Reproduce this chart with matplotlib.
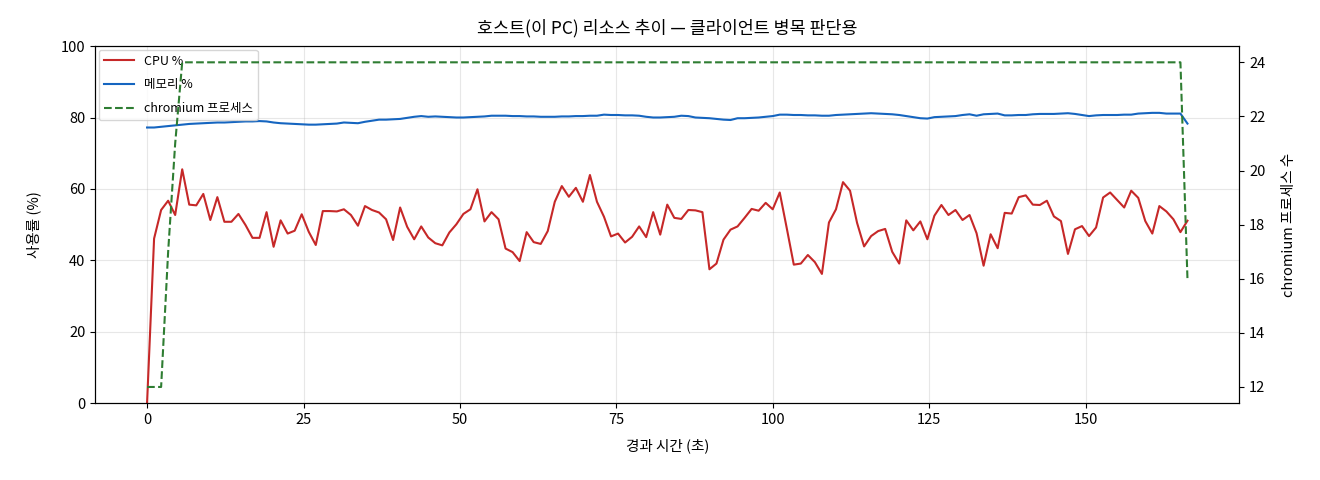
import numpy as np
import matplotlib
matplotlib.use("Agg")
import matplotlib.pyplot as plt

plt.rcParams['font.family'] = ['Noto Sans CJK KR', 'DejaVu Sans']

# sampling interval (seconds)
step = 1.1233
cpu = [
    0, 46.1, 54.1, 56.7, 52.7, 65.5, 55.6, 55.4, 58.6, 51.3,
    57.7, 50.8, 50.8, 53.0, 49.9, 46.3, 46.3, 53.5, 43.8, 51.2,
    47.5, 48.3, 52.9, 48.0, 44.3, 53.8, 53.8, 53.7, 54.3, 52.7,
    49.7, 55.2, 54.1, 53.4, 51.5, 45.7, 54.8, 49.4, 45.9, 49.5,
    46.4, 44.8, 44.2, 47.8, 50.1, 53.0, 54.3, 59.9, 50.9, 53.5,
    51.5, 43.3, 42.3, 39.8, 47.9, 45.1, 44.6, 48.2, 56.4, 60.8,
    57.8, 60.3, 56.4, 63.9, 56.4, 52.2, 46.7, 47.5, 45.0, 46.6,
    49.5, 46.5, 53.5, 47.2, 55.6, 51.9, 51.6, 54.1, 54.0, 53.5,
    37.5, 39.1, 45.8, 48.6, 49.5, 51.9, 54.4, 53.9, 56.1, 54.3,
    59.0, 49.0, 38.8, 39.1, 41.5, 39.5, 36.2, 50.6, 54.3, 61.9,
    59.5, 50.5, 43.9, 46.8, 48.2, 48.8, 42.4, 39.1, 51.2, 48.4,
    50.9, 45.9, 52.5, 55.5, 52.7, 54.1, 51.3, 52.7, 47.6, 38.5,
    47.3, 43.4, 53.3, 53.1, 57.7, 58.2, 55.6, 55.5, 56.7, 52.3,
    51.0, 41.8, 48.7, 49.6, 46.8, 49.2, 57.6, 59.0, 56.9, 54.8,
    59.5, 57.5, 51.0, 47.5, 55.2, 53.7, 51.5, 47.9, 51.1,
]
mem = [
    77.2, 77.2, 77.4, 77.6, 77.8, 78.0, 78.2, 78.3, 78.4, 78.5,
    78.6, 78.6, 78.7, 78.8, 78.9, 78.9, 79.0, 78.9, 78.6, 78.4,
    78.3, 78.2, 78.1, 78.0, 78.0, 78.1, 78.2, 78.3, 78.6, 78.5,
    78.4, 78.8, 79.1, 79.4, 79.4, 79.5, 79.6, 79.9, 80.2, 80.4,
    80.2, 80.3, 80.2, 80.1, 80.0, 80.0, 80.1, 80.2, 80.3, 80.5,
    80.5, 80.5, 80.4, 80.4, 80.3, 80.3, 80.2, 80.2, 80.2, 80.3,
    80.3, 80.4, 80.4, 80.5, 80.5, 80.8, 80.7, 80.7, 80.6, 80.6,
    80.5, 80.2, 80.0, 80.0, 80.1, 80.2, 80.5, 80.4, 80.0, 79.9,
    79.8, 79.6, 79.4, 79.3, 79.8, 79.8, 79.9, 80.0, 80.2, 80.4,
    80.8, 80.8, 80.7, 80.7, 80.6, 80.6, 80.5, 80.5, 80.7, 80.8,
    80.9, 81.0, 81.1, 81.2, 81.1, 81.0, 80.9, 80.7, 80.4, 80.1,
    79.8, 79.7, 80.1, 80.2, 80.3, 80.4, 80.7, 80.9, 80.5, 80.9,
    81.0, 81.1, 80.6, 80.6, 80.7, 80.7, 80.9, 81.0, 81.0, 81.0,
    81.1, 81.2, 81.0, 80.7, 80.4, 80.6, 80.7, 80.7, 80.7, 80.8,
    80.8, 81.1, 81.2, 81.3, 81.3, 81.1, 81.1, 81.1, 78.3,
]
procs = [12, 12, 12, 17, 21] + [24] * 143 + [16]

t = np.arange(len(cpu)) * step

fig = plt.figure(figsize=(13.2, 4.8), dpi=100)
ax1 = fig.add_subplot(111)
fig.subplots_adjust(left=0.072, right=0.939, top=0.904, bottom=0.160)

l1, = ax1.plot(t, cpu, color='#c62828', lw=1.5, label='CPU %')
l2, = ax1.plot(t, mem, color='#1565c0', lw=1.5, label='메모리 %')
ax1.set_ylim(0, 100)
ax1.set_xlabel('경과 시간 (초)', fontsize=10.5, labelpad=8)
ax1.set_ylabel('사용률 (%)', fontsize=10.5, labelpad=14)
ax1.grid(True, alpha=0.3)
ax1.tick_params(labelsize=10.5)

ax2 = ax1.twinx()
l3, = ax2.plot(t, procs, color='#2e7d32', lw=1.5, ls='--', label='chromium 프로세스')
ax2.set_ylabel('chromium 프로세스 수', fontsize=10.5, labelpad=12)
ax2.tick_params(labelsize=10.5)

ax1.set_title('호스트(이 PC) 리소스 추이 — 클라이언트 병목 판단용', fontsize=12.5, pad=9)
ax1.legend([l1, l2, l3], [l1.get_label(), l2.get_label(), l3.get_label()],
           loc='upper left', fontsize=9, labelspacing=0.85, handlelength=2.4,
           borderaxespad=0.3)

fig.savefig('out.png', dpi=100)
